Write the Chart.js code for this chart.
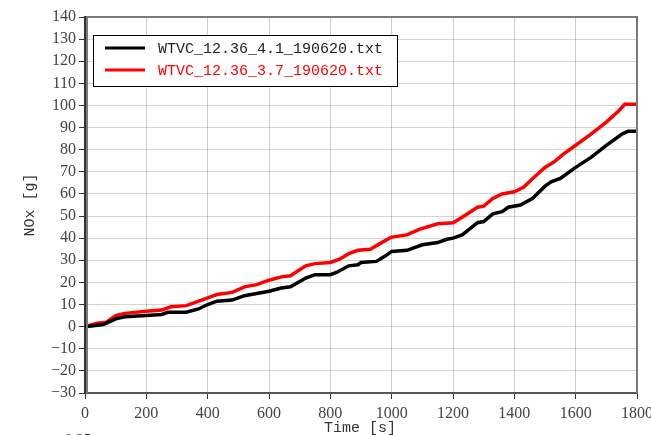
<!DOCTYPE html>
<html>
<head>
<meta charset="utf-8">
<script src="https://cdn.jsdelivr.net/npm/chart.js@4/dist/chart.umd.min.js"></script>
<style>
  html, body { margin: 0; padding: 0; background: #fff; }
  #wrap { width: 651px; height: 435px; position: relative; }
</style>
</head>
<body>
<div id="wrap"><canvas id="c" width="651" height="435"></canvas></div>
<script>
// Cumulative NOx over the WTVC cycle, two runs
const timeA = [0, 60, 100, 130, 200, 250, 270, 330, 370, 400, 430, 480, 520, 560, 600, 640, 670, 720, 750, 800, 820, 860, 890, 900, 950, 980, 1000, 1050, 1100, 1150, 1180, 1200, 1230, 1280, 1300, 1330, 1360, 1380, 1420, 1460, 1500, 1520, 1550, 1600, 1650, 1700, 1750, 1770, 1800];
const noxA  = [0, 1, 3.5, 4.5, 5, 5.5, 6.5, 6.5, 8, 10, 11.5, 12, 14, 15, 16, 17.5, 18, 22, 23.5, 23.5, 24.5, 27.5, 28, 29, 29.5, 32, 34, 34.5, 37, 38, 39.5, 40, 41.5, 47, 47.5, 51, 52, 54, 55, 58, 63.5, 65.5, 67, 72, 76.5, 82, 87, 88.3, 88.3];

const timeB = [0, 40, 70, 100, 130, 200, 250, 280, 330, 360, 400, 430, 480, 520, 560, 600, 640, 670, 720, 750, 800, 830, 860, 890, 930, 980, 1000, 1050, 1090, 1150, 1200, 1230, 1280, 1300, 1330, 1360, 1400, 1430, 1460, 1500, 1530, 1560, 1600, 1650, 1700, 1740, 1760, 1800];
const noxB  = [0, 1.5, 2, 5, 6, 7, 7.5, 9, 9.5, 11, 13, 14.5, 15.5, 18, 19, 21, 22.5, 23, 27.5, 28.5, 29, 30.5, 33, 34.5, 35, 39, 40.5, 41.5, 44, 46.5, 47, 49.5, 54, 54.5, 58, 60, 61, 63, 67, 72, 74.5, 78, 82, 87, 92.5, 97.5, 100.5, 100.5];

const labelA = 'WTVC_12.36_4.1_190620.txt';
const labelB = 'WTVC_12.36_3.7_190620.txt';

const xTitle = 'Time [s]';
const yTitle = 'NOx [g]';

const pts = (xs, ys) => xs.map((x, i) => ({ x: x, y: ys[i] }));
const num = v => (v < 0 ? '\u2212' + Math.abs(v) : String(v));

// Frame, axis titles and the boxed legend drawn on top of the plot
const decor = {
  id: 'decor',
  afterDraw(chart) {
    const ctx = chart.ctx;
    const a = chart.chartArea;
    ctx.save();
    // grey frame around the plot
    ctx.strokeStyle = '#7a7a7a';
    ctx.lineWidth = 2;
    ctx.beginPath();
    ctx.moveTo(a.left + 2, a.bottom);
    ctx.lineTo(a.left + 2, a.top);
    ctx.lineTo(a.right, a.top);
    ctx.lineTo(a.right, a.bottom);
    ctx.stroke();

    // axis titles
    ctx.fillStyle = '#333';
    ctx.font = '15px "Liberation Mono", monospace';
    ctx.textAlign = 'center';
    ctx.textBaseline = 'middle';
    ctx.fillText(xTitle, (a.left + a.right) / 2 - 1, 428);
    ctx.save();
    ctx.translate(30, 205);
    ctx.rotate(-Math.PI / 2);
    ctx.fillText(yTitle, 0, 0);
    ctx.restore();
    ctx.font = '15px "Liberation Serif", serif';
    ctx.fillText('0.25', 78, 440);

    // legend box
    const bx = 93, by = 35, bw = 304, bh = 51;
    ctx.fillStyle = '#fff';
    ctx.fillRect(bx, by, bw, bh);
    ctx.strokeStyle = '#000';
    ctx.lineWidth = 1;
    ctx.strokeRect(bx + 0.5, by + 0.5, bw, bh);
    ctx.textAlign = 'left';
    ctx.font = '15px "Liberation Mono", monospace';
    chart.data.datasets.forEach((ds, i) => {
      const y = by + 13 + i * 22;
      ctx.strokeStyle = ds.borderColor;
      ctx.lineWidth = 3;
      ctx.beginPath();
      ctx.moveTo(bx + 12, y);
      ctx.lineTo(bx + 52, y);
      ctx.stroke();
      ctx.fillStyle = i === 0 ? '#222' : ds.borderColor;
      ctx.fillText(ds.label, bx + 65, y + 1);
    });
    ctx.restore();
  }
};

new Chart(document.getElementById('c'), {
  type: 'line',
  data: {
    datasets: [
      { label: labelA, data: pts(timeA, noxA), borderColor: '#000000', borderWidth: 3.5, pointRadius: 0, tension: 0 },
      { label: labelB, data: pts(timeB, noxB), borderColor: '#ff0000', borderWidth: 3.5, pointRadius: 0, tension: 0 }
    ]
  },
  options: {
    responsive: false,
    animation: false,
    devicePixelRatio: 1,
    layout: { padding: { left: 0, top: 17, right: 14, bottom: 0 } },
    plugins: { legend: { display: false }, tooltip: { enabled: false } },
    scales: {
      x: {
        type: 'linear',
        min: 0, max: 1800,
        afterFit(s) { s.height = 42; s.paddingLeft = 0; s.paddingRight = 0; },
        ticks: { stepSize: 200, autoSkip: false, callback: v => num(v), color: '#444', font: { family: '"Liberation Serif", serif', size: 16 }, padding: 5, maxRotation: 0 },
        grid: { color: 'rgba(0,0,0,0.2)', lineWidth: 1, tickLength: 6, tickColor: '#333' },
        border: { color: '#555', width: 2 }
      },
      y: {
        min: -30, max: 140,
        afterFit(s) { s.width = 85; s.paddingTop = 0; s.paddingBottom = 0; },
        ticks: { stepSize: 10, autoSkip: false, callback: v => num(v), color: '#444', font: { family: '"Liberation Serif", serif', size: 16 }, padding: 3 },
        grid: { color: 'rgba(0,0,0,0.17)', lineWidth: 1, tickLength: 6, tickColor: '#333' },
        border: { color: '#333', width: 2 }
      }
    }
  },
  plugins: [decor]
});
</script>
</body>
</html>
